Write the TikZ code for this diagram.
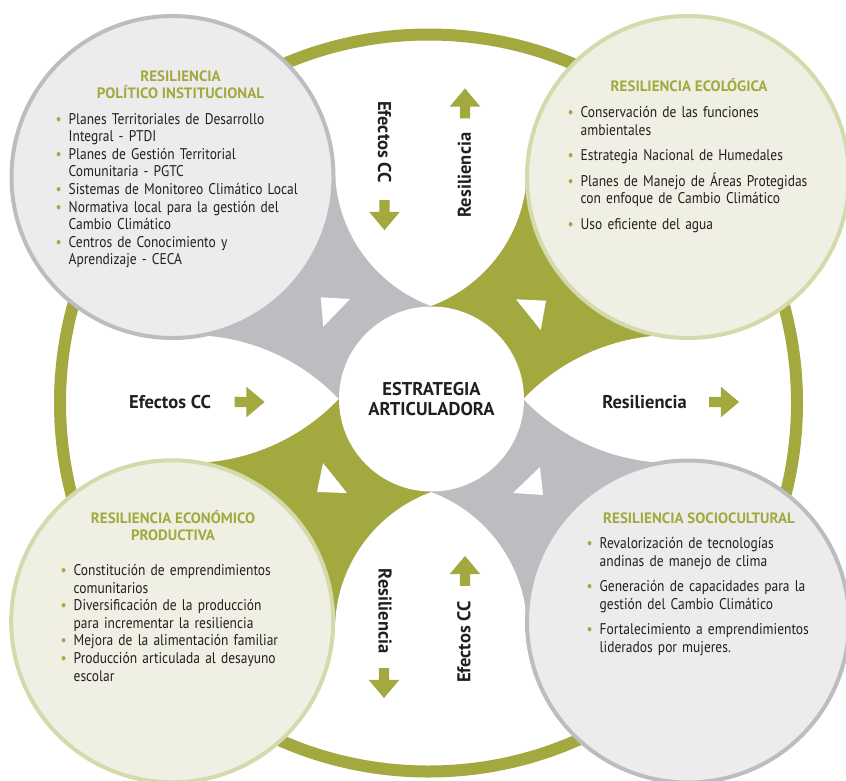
\documentclass[tikz,border=0pt]{standalone}
\usepackage{fontspec}
\setmainfont{PT Sans}[FakeStretch=0.87]
\newfontfamily\headfont{PT Sans}
\usetikzlibrary{shapes.arrows}

\definecolor{leaf}{HTML}{A3A83F}  % olive green
\definecolor{stone}{HTML}{BCBDC0} % grey fields
\definecolor{mist}{HTML}{EBECEB}  % grey disc fill
\definecolor{cream}{HTML}{EFEFE3} % green disc fill
\definecolor{sage}{HTML}{D3DAAB}  % green disc rim
\definecolor{ink}{HTML}{231F20}

% bullet entries: the bullet hangs, the later lines line up with the text
\newcommand{\blt}{\makebox[13pt][l]{\textcolor{leaf}{\textbullet}}}
\newcommand{\entry}[1]{\hangindent=13pt\hangafter=1\noindent\blt#1\par}
\newcommand{\gap}{\vspace{8pt}}

\begin{document}
\begin{tikzpicture}[%
    x=1pt, y=-1pt,                          % pixel grid, y pointing down
    font=\fontsize{15.5}{17.6}\selectfont,  % body text of the discs
    ]
% -------------------------------------------------
% A few styles
\tikzset{
  disc/.style={circle, inner sep=0pt, minimum size=#1},
  rim/.style={disc=322pt, line width=4pt},
  greydisc/.style={rim, draw=stone, fill=mist},
  greendisc/.style={rim, draw=sage, fill=cream},
  heading/.style={font=\headfont\fontsize{15}{17}\selectfont\bfseries, text=leaf, align=center},
  list/.style={anchor=base west, text width=280pt, align=left, text=ink, inner sep=0pt},
  flowlabel/.style={font=\headfont\fontsize{18.5}{20}\selectfont\bfseries, text=ink},
  flowarrow/.style={single arrow, fill=leaf, inner xsep=0pt, inner ysep=5pt,
    minimum height=30pt, minimum width=30pt, single arrow head extend=10pt,
    single arrow tip angle=80},
  dart/.style={fill=white},
}
\useasboundingbox (0,0) rectangle (846,780);
% -------------------------------------------------
% Colour fields round the centre
\fill[stone] (431,306) -- (336,170) -- (172.5,177) -- (180,336) -- (339,399) -- (431.5,399) -- cycle;
\fill[leaf]  (431,306) -- (526,170) -- (688,177) -- (682,336) -- (523,399) -- (431.5,399) -- cycle;
\fill[leaf]  (431,492) -- (336,628) -- (172,621) -- (180,462) -- (339,399) -- (431.5,399) -- cycle;
\fill[stone] (431,492) -- (526,628) -- (688,621) -- (682,462) -- (523,399) -- (431.5,399) -- cycle;
% White lenses between the fields
\begin{scope}
  \clip (380,168) circle (147);
  \fill[white] (482,168) circle (147);
\end{scope}
\begin{scope}
  \clip (380,630) circle (147);
  \fill[white] (482,630) circle (147);
\end{scope}
\begin{scope}
  \clip (189,256) circle (207);
  \fill[white] (189,542) circle (207);
\end{scope}
\begin{scope}
  \clip (673,256) circle (207);
  \fill[white] (673,542) circle (207);
\end{scope}
% Small white darts
\fill[dart] (320.7,297.3) -- (350,299) -- (323.3,326.7) -- cycle;
\fill[dart] (516,299.3) -- (546,300.7) -- (540.7,330) -- cycle;
\fill[dart] (323,463) -- (347,493) -- (317,492) -- cycle;
\fill[dart] (540,467) -- (543,495) -- (513,493) -- cycle;
% Outer ring
\draw[leaf, line width=12pt] (428.5,403) circle (368.5);
% -------------------------------------------------
% Centre and the four discs
\node[disc=185pt, fill=white, flowlabel, align=center] (core) at (431.5,399) {ESTRATEGIA\\ARTICULADORA};
\node[greydisc]  (tl) at (172.5,177) {};
\node[greendisc] (tr) at (688,177) {};
\node[greendisc] (bl) at (172.2,621.3) {};
\node[greydisc]  (br) at (688,621.5) {};
% -------------------------------------------------
% Disc texts
\node[heading] (tlhead) at (180.5,84.5) {RESILIENCIA\\POLÍTICO INSTITUCIONAL};
\node[list] (tllist) at (55.5,124) {%
  \entry{Planes Territoriales de Desarrollo\newline Integral - PTDI}
  \entry{Planes de Gestión Territorial\newline Comunitaria - PGTC}
  \entry{Sistemas de Monitoreo Climático Local}
  \entry{Normativa local para la gestión del\newline Cambio Climático}
  \entry{Centros de Conocimiento y\newline Aprendizaje - CECA}};
\node[heading] (trhead) at (689,85) {RESILIENCIA ECOLÓGICA};
\node[list] (trlist) at (567.5,117.5) {%
  \entry{Conservación de las funciones\newline ambientales}\gap
  \entry{Estrategia Nacional de Humedales}\gap
  \entry{Planes de Manejo de Áreas Protegidas\newline con enfoque de Cambio Climático}\gap
  \entry{Uso eficiente del agua}};
\node[heading] (blhead) at (173,526) {RESILIENCIA ECONÓMICO\\PRODUCTIVA};
\node[list] (bllist) at (60.5,575.5) {%
  \entry{Constitución de emprendimientos\newline comunitarios}
  \entry{Diversificación de la producción\newline para incrementar la resiliencia}
  \entry{Mejora de la alimentación familiar}
  \entry{Producción articulada al desayuno\newline escolar}};
\node[heading] (brhead) at (699,518) {RESILIENCIA SOCIOCULTURAL};
\node[list] (brlist) at (586.5,548.5) {%
  \entry{Revalorización de tecnologías\newline andinas de manejo de clima}\gap
  \entry{Generación de capacidades para la\newline gestión del Cambio Climático}\gap
  \entry{Fortalecimiento a emprendimientos\newline liderados por mujeres.}};
% -------------------------------------------------
% Flow labels and arrows
\node[flowlabel, rotate=-90] (tleff) at (384.5,142) {Efectos CC};
\node[flowarrow, rotate=-90] (tlarr) at (384.5,212) {};
\node[flowlabel, rotate=90] (trres) at (464.5,175) {Resiliencia};
\node[flowarrow, rotate=90] (trarr) at (465,106.5) {};
\node[flowlabel] (leff) at (170,402) {Efectos CC};
\node[flowarrow] (larr) at (246.5,402) {};
\node[flowlabel] (rres) at (644.5,402) {Resiliencia};
\node[flowarrow] (rarr) at (721,402) {};
\node[flowlabel, rotate=-90] (blres) at (385,611) {Resiliencia};
\node[flowarrow, rotate=-90] (blarr) at (384,680) {};
\node[flowlabel, rotate=90] (breff) at (464,642) {Efectos CC};
\node[flowarrow, rotate=90] (brarr) at (465,574) {};
% -------------------------------------------------
\end{tikzpicture}
\end{document}
